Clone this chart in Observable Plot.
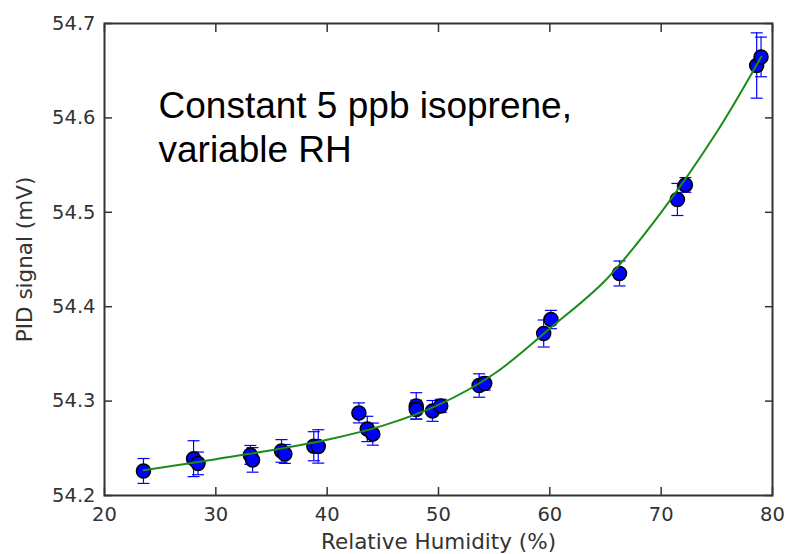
<!DOCTYPE html>
<html><head><meta charset="utf-8">
<script src="https://cdn.jsdelivr.net/npm/d3@7"></script>
<script src="https://cdn.jsdelivr.net/npm/@observablehq/plot@0.6"></script>
<style>
html,body{margin:0;padding:0;background:#fff}
#chart svg{display:block;overflow:visible}
</style>
</head><body><div id="chart"></div>
<script>
// measured points: relative humidity (%), PID signal (mV), error (mV)
const rh     = [23.5, 28.0, 28.4, 33.1, 33.3, 35.9, 36.2, 38.8, 39.2, 42.85, 43.6, 44.1, 48.0, 48.0, 49.46, 50.2, 53.65, 54.15, 59.45, 60.1, 66.26, 71.46, 72.18, 78.58, 78.97];
const signal = [54.226, 54.239, 54.234, 54.243, 54.2377, 54.2472, 54.244, 54.2522, 54.252, 54.2875, 54.2705, 54.265, 54.2949, 54.291, 54.2896, 54.2949, 54.3165, 54.3186, 54.3716, 54.3864, 54.4352, 54.5136, 54.529, 54.6555, 54.6646];
const err    = [0.0132, 0.019, 0.012, 0.010, 0.013, 0.012, 0.010, 0.0154, 0.0177, 0.0106, 0.0134, 0.0117, 0.014, 0.010, 0.011, 0.007, 0.0124, 0.007, 0.0143, 0.0097, 0.0132, 0.017, 0.0078, 0.0346, 0.021];
// fitted curve
const fitRH     = [23.5, 30, 35, 40, 45, 50, 55, 60, 65, 70, 75, 79];
const fitSignal = [54.2267, 54.2385, 54.2480, 54.2590, 54.2740, 54.2960, 54.3290, 54.3770, 54.4280, 54.5000, 54.5850, 54.6650];
const xTicks = [20, 30, 40, 50, 60, 70, 80];
const yTicks = [54.2, 54.3, 54.4, 54.5, 54.6, 54.7];
const xLabel = "Relative Humidity (%)";
const yLabel = "PID signal (mV)";
const annotation = "Constant 5 ppb isoprene,\nvariable RH";

const points = rh.map((x, i) => ({x, y: signal[i], e: err[i]}));
const fit = fitRH.map((x, i) => ({x, y: fitSignal[i]}));
const capSymbol = {draw(ctx, size) { const w = Math.sqrt(size / Math.PI); ctx.moveTo(-w, 0); ctx.lineTo(w, 0); }};
const axisColor = "#333";
const tickFont = "DejaVu Sans";

const chart = Plot.plot({
  width: 787,
  height: 554,
  marginLeft: 104,
  marginRight: 15,
  marginTop: 23,
  marginBottom: 59,
  style: {background: "#fff", color: axisColor, fontFamily: tickFont},
  x: {domain: [20, 80]},
  y: {domain: [54.2, 54.7]},
  marks: [
    Plot.ruleX(points, {x: "x", y1: d => d.y - d.e, y2: d => d.y + d.e, stroke: "#0000ff", strokeWidth: 1.2}),
    Plot.dot(points, {x: "x", y: d => d.y + d.e, symbol: capSymbol, r: 6, stroke: "#0000ff", fill: "none", strokeWidth: 1.2}),
    Plot.dot(points, {x: "x", y: d => d.y - d.e, symbol: capSymbol, r: 6, stroke: "#0000ff", fill: "none", strokeWidth: 1.2}),
    Plot.dot(points, {x: "x", y: "y", r: 7, fill: "#0000ff", stroke: "#000", strokeWidth: 1.5}),
    Plot.line(fit, {x: "x", y: "y", stroke: "#1a8c1a", strokeWidth: 2, curve: "catmull-rom"}),
    Plot.frame({stroke: axisColor, strokeWidth: 2}),
    Plot.axisX({anchor: "bottom", ticks: xTicks, tickFormat: d => String(d), tickSize: -8, tickPadding: 20, fontSize: 19.5, stroke: axisColor, strokeWidth: 1.5,
      label: xLabel, labelAnchor: "center", labelArrow: "none", labelOffset: 53}),
    Plot.axisX({anchor: "top", ticks: xTicks, tickFormat: () => "", tickSize: -8, tickPadding: 0, stroke: axisColor, strokeWidth: 1.5, label: null}),
    Plot.axisY({anchor: "left", ticks: yTicks, tickFormat: d => d.toFixed(1), tickSize: -8, tickPadding: 17, fontSize: 19.5, stroke: axisColor, strokeWidth: 1.5,
      label: yLabel, labelAnchor: "center", labelArrow: "none", labelOffset: 88}),
    Plot.axisY({anchor: "right", ticks: yTicks, tickFormat: () => "", tickSize: -8, tickPadding: 0, stroke: axisColor, strokeWidth: 1.5, label: null}),
    Plot.text([annotation], {frameAnchor: "top-left", dx: 54, dy: 63, textAnchor: "start", lineAnchor: "top", lineHeight: 1.2,
      fontSize: 37, fontFamily: "Liberation Sans, Arial, sans-serif", fill: "#000"})
  ]
});
document.getElementById("chart").appendChild(chart);
d3.select(chart).selectAll('[aria-label="x-axis label"], [aria-label="y-axis label"]').attr("font-size", 21.5);
</script>
</body></html>
